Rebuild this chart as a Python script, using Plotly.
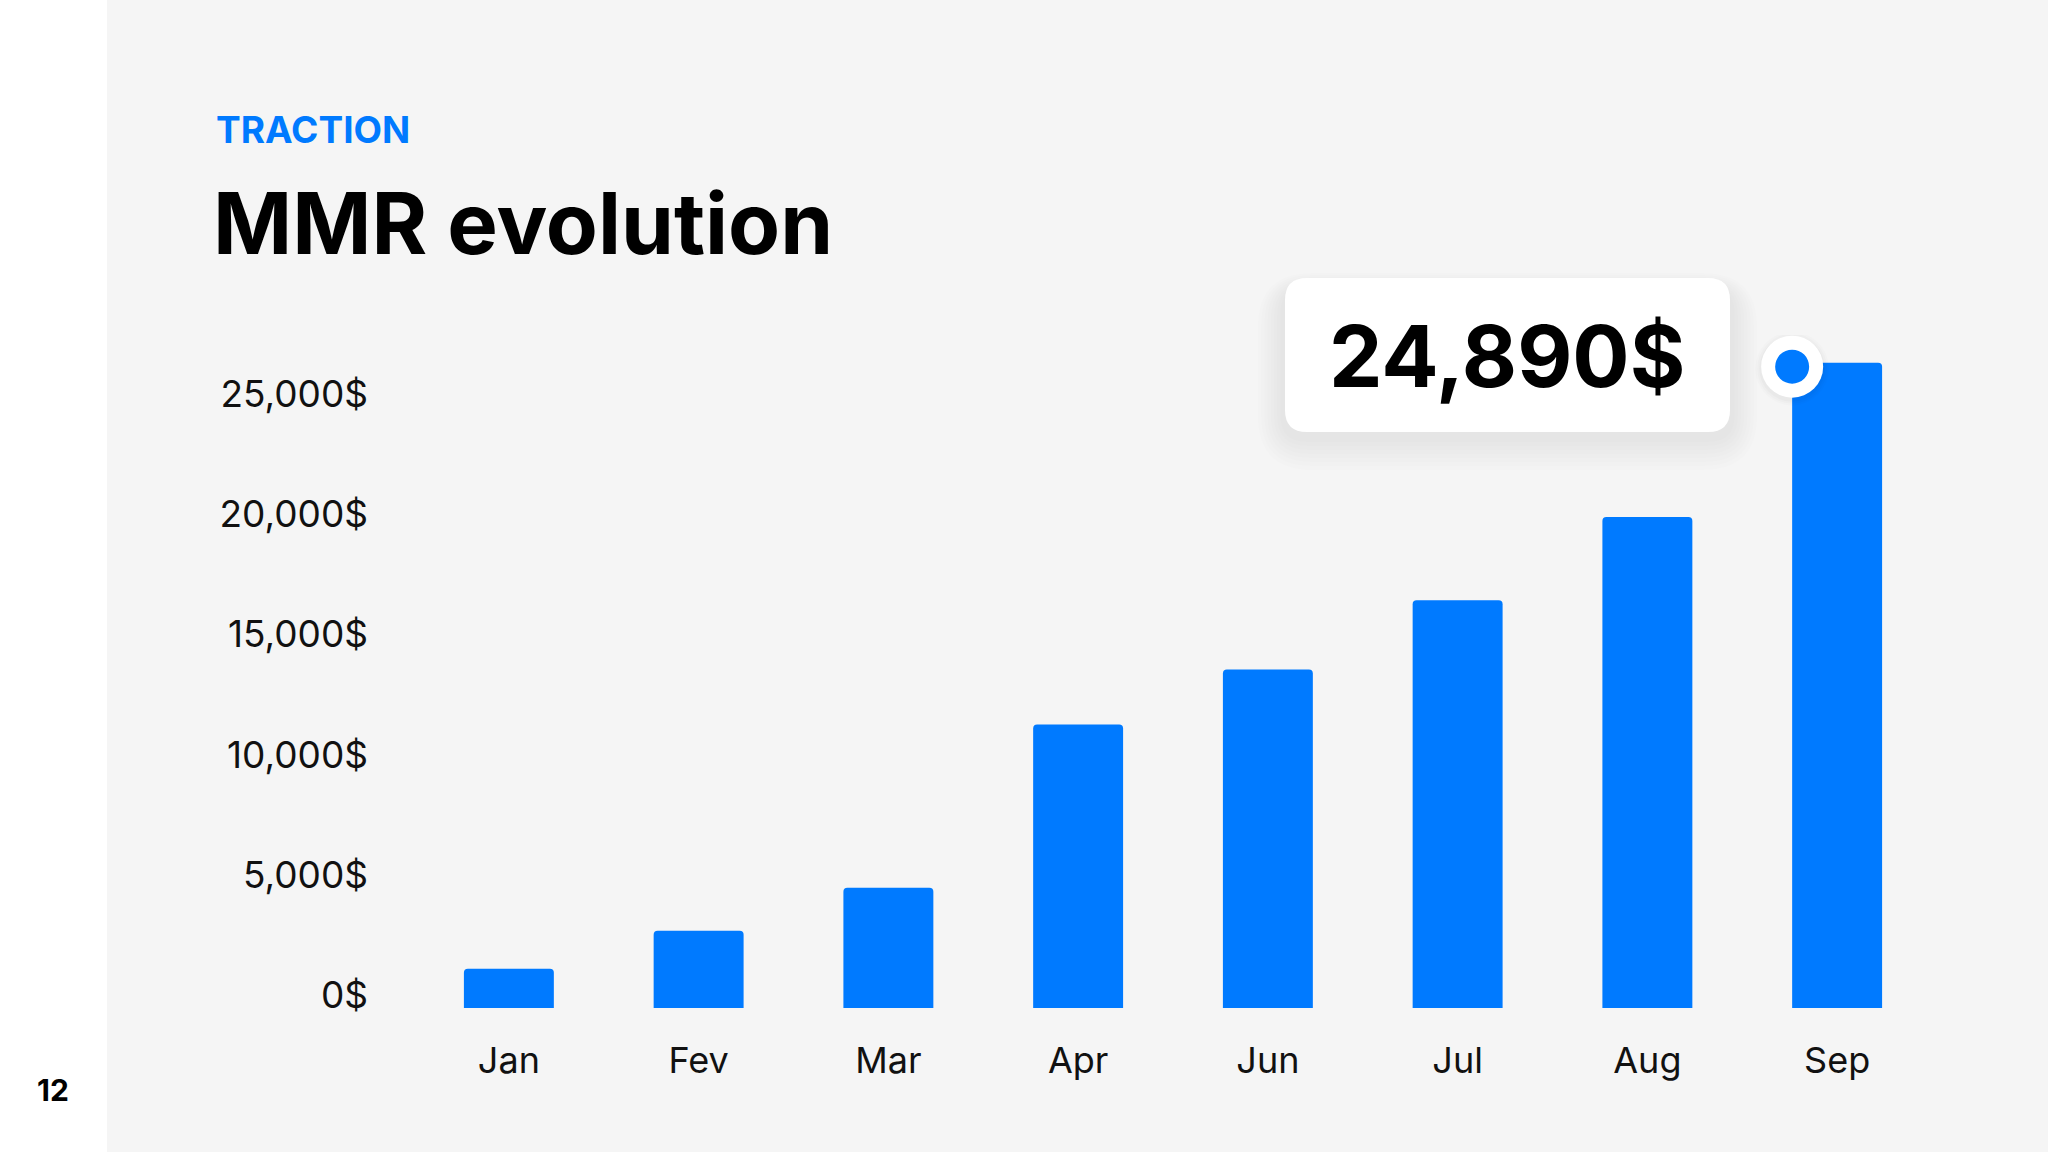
import plotly.graph_objects as go

months = ["Jan", "Fev", "Mar", "Apr", "Jun", "Jul", "Aug", "Sep"]
mrr = [1630, 3210, 5000, 11790, 14080, 16960, 20430, 26850]
tick_vals = [0, 5000, 10000, 15000, 20000, 25000]
tick_text = ["0$", "5,000$", "10,000$", "15,000$", "20,000$", "25,000$"]
kicker = "TRACTION"
title = "MMR evolution"
callout = "24,890$"
page_no = "12"

BLUE = "#007AFF"
FONT = "Inter"
W, H = 2048, 1152
L, R, T, B = 414, 116, 335, 144
PW, PH = W - L - R, H - T - B
YMAX = 28000


def px(x):
    return (x - L) / PW


def py(y):
    return (H - B - y) / PH


def rrect(x0, y0, x1, y1, r):
    # pixel coords (y down) -> paper path with rounded corners
    X0, X1 = px(x0), px(x1)
    Y0, Y1 = py(y0), py(y1)  # Y0 top
    rx, ry = r / PW, r / PH
    return (f"M {X0+rx},{Y0} L {X1-rx},{Y0} Q {X1},{Y0} {X1},{Y0-ry} "
            f"L {X1},{Y1+ry} Q {X1},{Y1} {X1-rx},{Y1} L {X0+rx},{Y1} "
            f"Q {X0},{Y1} {X0},{Y1+ry} L {X0},{Y0-ry} Q {X0},{Y0} {X0+rx},{Y0} Z")


fig = go.Figure()
fig.add_trace(go.Bar(x=months, y=mrr, marker=dict(color=BLUE, cornerradius=4, line=dict(width=0)),
                     hoverinfo="skip"))

shapes = []
# white left strip
shapes.append(dict(type="rect", xref="paper", yref="paper", x0=px(-10), x1=px(107), y0=py(H + 10), y1=py(-10),
                   fillcolor="white", line=dict(width=0), layer="below"))
# callout shadow (soft, layered)
bx0, by0, bx1, by1 = 1285, 278, 1730, 432
for g in [34, 30, 26, 22, 18, 14, 10, 6]:
    shapes.append(dict(type="path", xref="paper", yref="paper",
                       path=rrect(bx0 - g * 0.8, by0 - g * 0.5 + 12, bx1 + g * 0.8, by1 + g + 4, 20 + g),
                       fillcolor="rgba(0,0,0,0.009)", line=dict(width=0), layer="above"))
shapes.append(dict(type="path", xref="paper", yref="paper", path=rrect(bx0, by0, bx1, by1, 22),
                   fillcolor="white", line=dict(width=0), layer="above"))
# dot on Sep bar
dot_x = len(months) - 1 - 0.237
dot_y = mrr[-1]
for rad, col in [(37, "rgba(0,0,0,0.012)"), (35, "rgba(0,0,0,0.015)"), (33, "rgba(0,0,0,0.02)"),
                 (31, "white"), (17, BLUE)]:
    off = 2 if rad > 31 else 0
    shapes.append(dict(type="circle", xref="x", yref="y", xsizemode="pixel", ysizemode="pixel",
                       xanchor=dot_x, yanchor=dot_y, x0=-rad, x1=rad, y0=-rad - off - 4, y1=rad - off - 4,
                       fillcolor=col, line=dict(width=0), layer="above"))

annotations = [
    dict(text=f"<b>{kicker}</b>", xref="paper", yref="paper", x=px(214), y=py(130), xanchor="left",
         yanchor="middle", showarrow=False, font=dict(family=FONT, size=37, color=BLUE)),
    dict(text=f"<b>{title}</b>", xref="paper", yref="paper", x=px(211), y=py(224), xanchor="left",
         yanchor="middle", showarrow=False, font=dict(family=FONT, size=85, color="#000000")),
    dict(text=f"<b>{callout}</b>", xref="paper", yref="paper", x=px(1507), y=py(356), xanchor="center",
         yanchor="middle", showarrow=False, font=dict(family=FONT, size=85, color="#000000")),
    dict(text=f"<b>{page_no}</b>", xref="paper", yref="paper", x=px(53), y=py(1090), xanchor="center",
         yanchor="middle", showarrow=False, font=dict(family=FONT, size=30, color="#000000")),
]

fig.update_layout(
    width=W, height=H,
    margin=dict(l=L, r=R, t=T, b=B, pad=0),
    paper_bgcolor="#F5F5F5", plot_bgcolor="rgba(0,0,0,0)",
    bargap=0.526, showlegend=False,
    shapes=shapes, annotations=annotations,
    font=dict(family=FONT, color="#111111"),
    xaxis=dict(showgrid=False, zeroline=False, showline=False, ticks="",
               tickfont=dict(family=FONT, size=36, color="#111111"), ticklabelstandoff=28,
               fixedrange=True),
    yaxis=dict(range=[0, YMAX], showgrid=False, zeroline=False, showline=False, ticks="",
               tickvals=tick_vals, ticktext=tick_text, ticklabelshift=-13, ticklabelstandoff=45,
               tickfont=dict(family=FONT, size=37, color="#111111"), fixedrange=True),
)

fig.write_html("out.html", config={"displayModeBar": False},
               post_script="document.body.style.margin='0';document.body.style.overflow='hidden';")
